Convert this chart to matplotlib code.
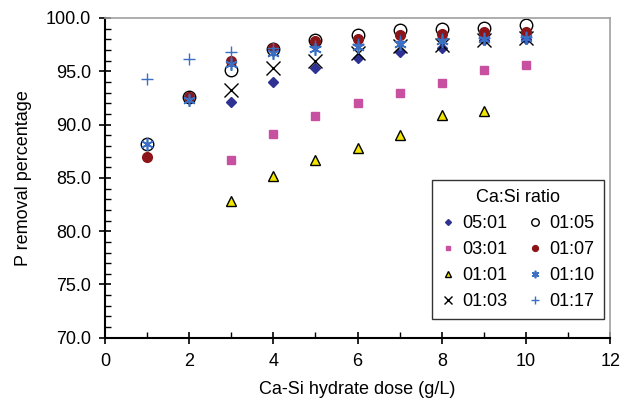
import numpy as np
import matplotlib.pyplot as plt
from matplotlib.ticker import MultipleLocator, FormatStrFormatter

plt.rcParams['font.family'] = ['Liberation Sans', 'DejaVu Sans']

# dose (g/L) and P removal (%) for each Ca:Si ratio
x_51 = [3, 4, 5, 6, 7, 8, 9, 10]
y_51 = [92.1, 94.0, 95.3, 96.2, 96.8, 97.2, 97.9, 98.0]

x_31 = [3, 4, 5, 6, 7, 8, 9, 10]
y_31 = [86.7, 89.1, 90.8, 92.0, 93.0, 93.9, 95.1, 95.6]

x_11 = [3, 4, 5, 6, 7, 8, 9]
y_11 = [82.8, 85.2, 86.7, 87.8, 89.0, 90.9, 91.3]

x_13 = [3, 4, 5, 6, 7, 8, 9, 10]
y_13 = [93.2, 95.3, 96.0, 96.7, 97.4, 97.5, 97.9, 98.1]

x_15 = [1, 2, 3, 4, 5, 6, 7, 8, 9, 10]
y_15 = [88.2, 92.6, 95.1, 97.1, 97.9, 98.4, 98.9, 99.0, 99.1, 99.3]

x_17 = [1, 2, 3, 4, 5, 6, 7, 8, 9, 10]
y_17 = [87.0, 92.6, 96.0, 97.2, 97.8, 98.0, 98.4, 98.5, 98.7, 98.7]

x_110 = [1, 2, 3, 4, 5, 6, 7, 8, 9, 10]
y_110 = [88.2, 92.3, 95.7, 96.7, 97.1, 97.3, 97.6, 97.8, 98.0, 98.1]

x_117 = [1, 2, 3, 4, 5, 6, 7, 8, 9, 10]
y_117 = [94.3, 96.1, 96.8, 97.2, 97.4, 97.6, 97.8, 98.0, 98.1, 98.2]

fig = plt.figure(figsize=(6.24, 4.07), dpi=100)
ax = fig.add_axes([0.168, 0.17, 0.81, 0.786])

ax.plot(x_51, y_51, 'D', color='#2E3192', ms=5, ls='none', label='05:01')
ax.plot(x_31, y_31, 's', color='#C850A0', ms=6, ls='none', label='03:01')
ax.plot(x_11, y_11, '^', mfc='#F2E600', mec='black', mew=1.0, ms=7, ls='none', label='01:01')
ax.plot(x_13, y_13, 'x', color='black', ms=10, mew=1.0, ls='none', label='01:03')
ax.plot(x_15, y_15, 'o', mfc='white', mec='black', mew=1.0, ms=9, ls='none', label='01:05')
ax.plot(x_17, y_17, 'o', color='#8B1518', ms=7, ls='none', label='01:07')
ax.plot(x_110, y_110, marker=(6, 2, 0), color='#3A6FC4', ms=9, mew=1.2, ls='none', label='01:10')
ax.plot(x_117, y_117, '+', color='#3A6FC4', ms=9, mew=1.0, ls='none', label='01:17')

ax.set_xlim(0, 12)
ax.set_ylim(70, 100)
ax.xaxis.set_major_locator(MultipleLocator(2))
ax.xaxis.set_minor_locator(MultipleLocator(1))
ax.yaxis.set_major_locator(MultipleLocator(5))
ax.yaxis.set_minor_locator(MultipleLocator(1))
ax.yaxis.set_major_formatter(FormatStrFormatter('%.1f'))
ax.tick_params(which='major', direction='inout', length=8, width=1.2, labelsize=13, colors='black')
ax.tick_params(which='minor', direction='in', length=4, width=1.0)
ax.tick_params(axis='y', pad=6)
ax.tick_params(axis='x', pad=7)

for s in ['left', 'bottom']:
    ax.spines[s].set_linewidth(1.5)
for s in ['top', 'right']:
    ax.spines[s].set_color('#A0A0A0')
    ax.spines[s].set_linewidth(1.2)

ax.set_xlabel('Ca-Si hydrate dose (g/L)', fontsize=13, labelpad=8)
ax.set_ylabel('P removal percentage', fontsize=13, labelpad=10)

leg = ax.legend(ncol=2, title='Ca:Si ratio', loc='lower right', bbox_to_anchor=(1.005, 0.03),
                fontsize=13, title_fontsize=13, frameon=True, fancybox=False,
                edgecolor='black', handlelength=0.7, handletextpad=0.45,
                columnspacing=1.2, markerscale=0.6, borderpad=0.5, labelspacing=0.5)
leg.get_frame().set_linewidth(1.0)

fig.savefig('out.png', dpi=100)
